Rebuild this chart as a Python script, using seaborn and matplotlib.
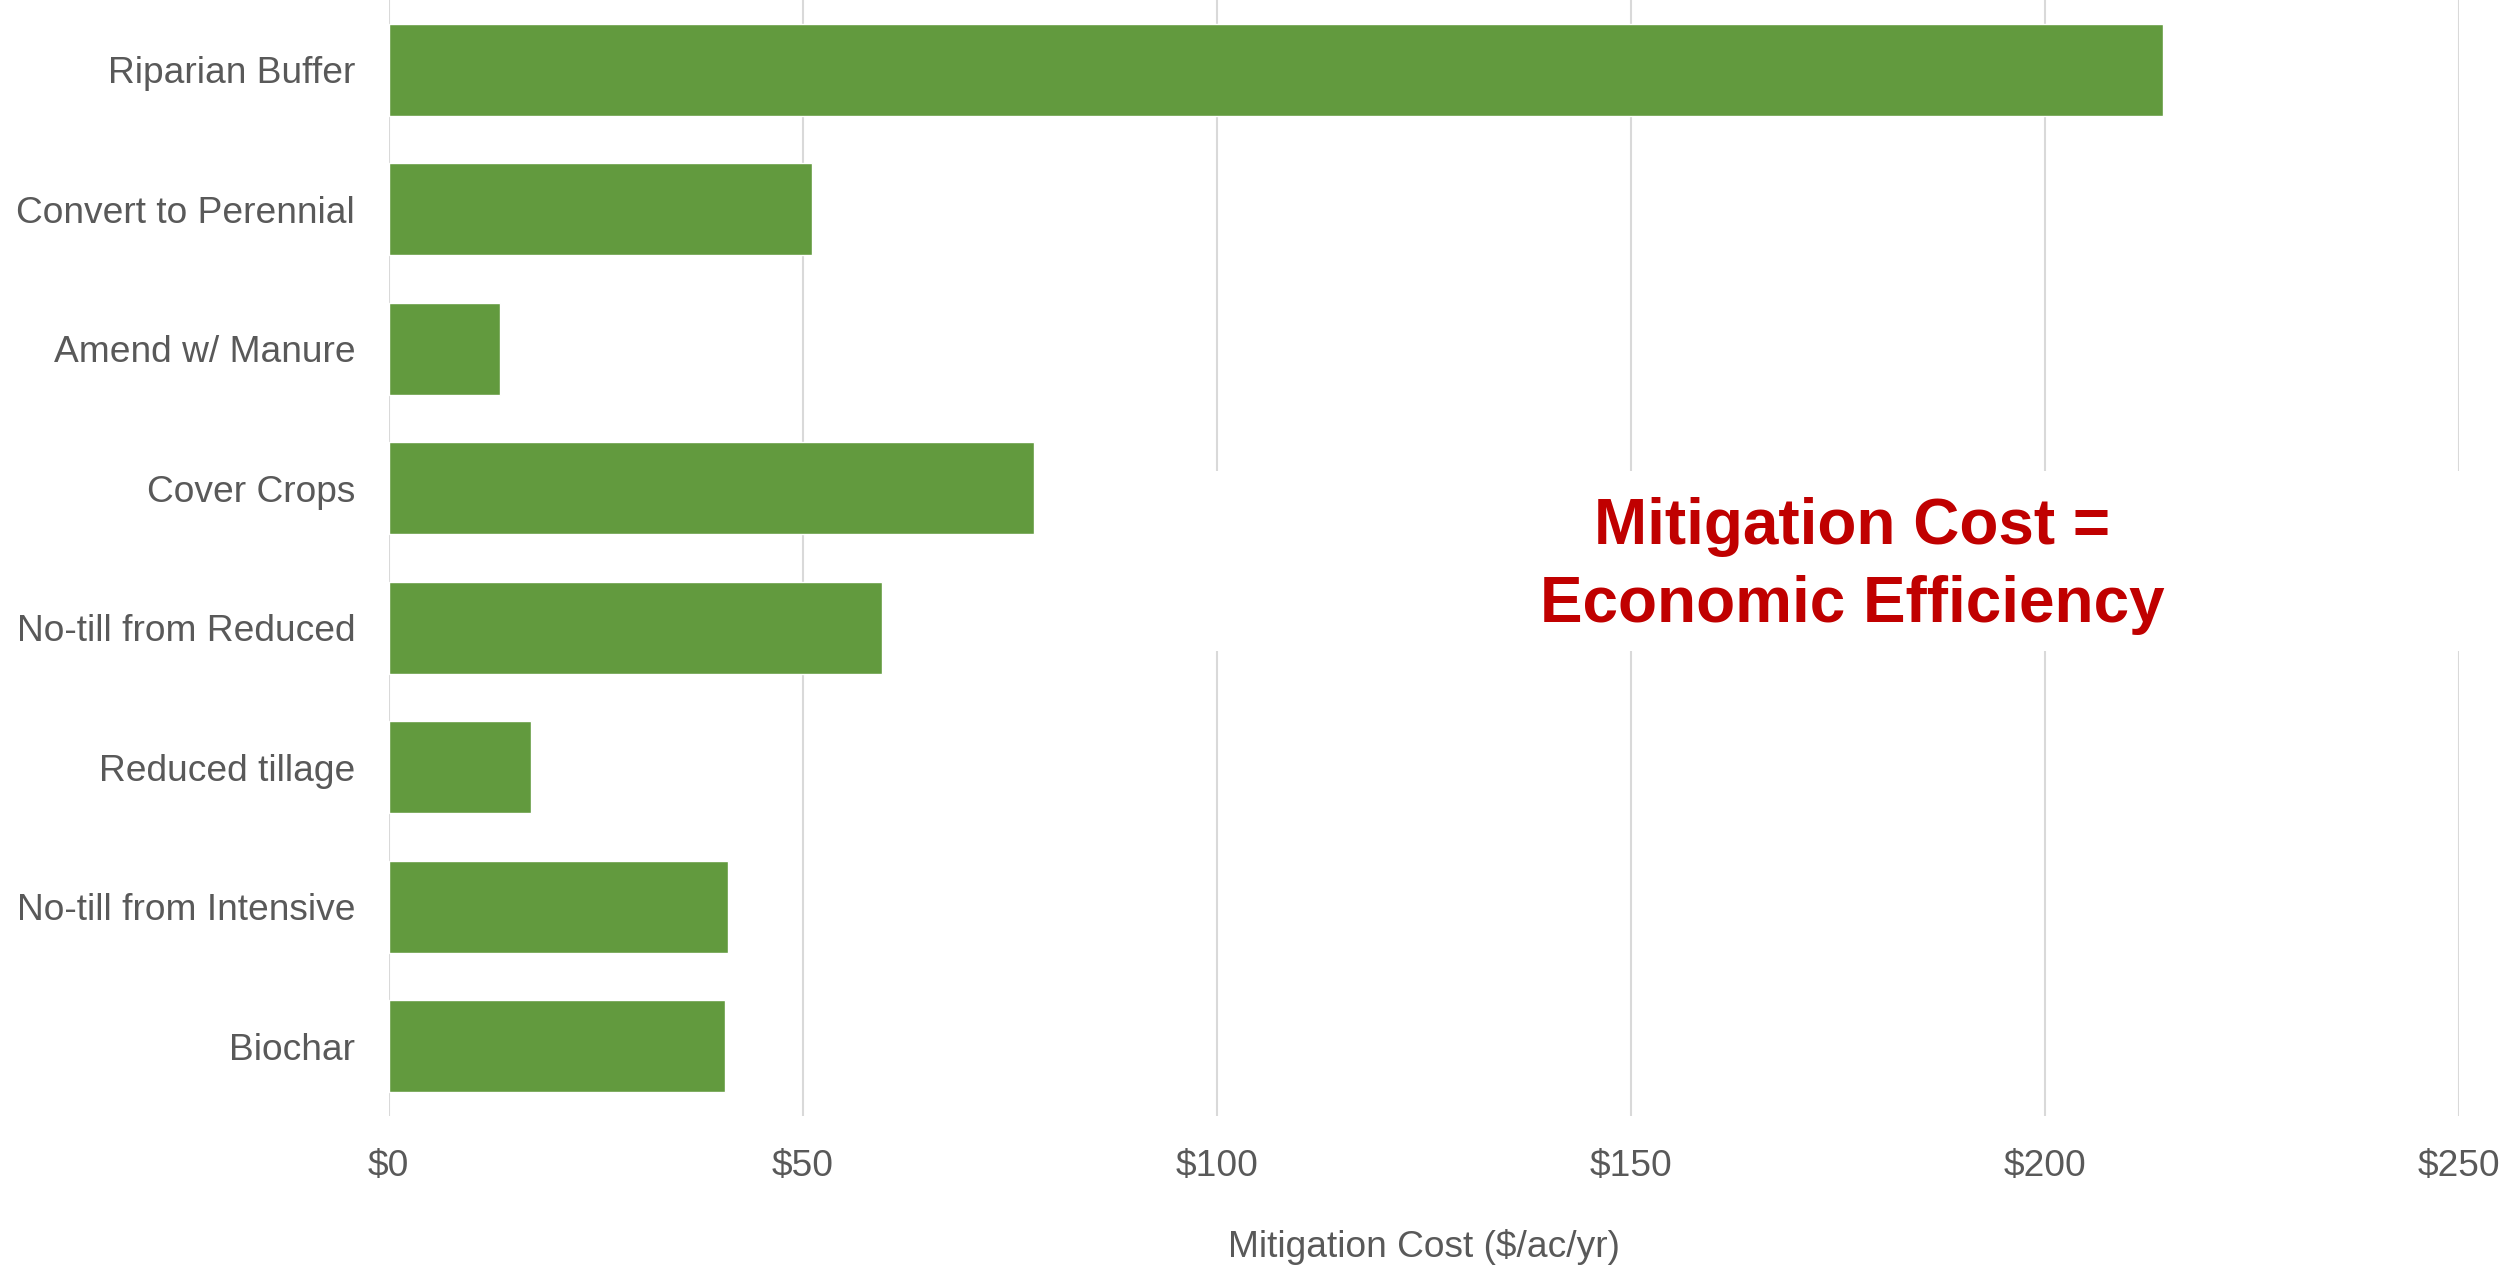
import matplotlib
matplotlib.use("Agg")
import matplotlib.pyplot as plt
from matplotlib.patches import Rectangle
from matplotlib.ticker import FuncFormatter
import seaborn as sns
import pandas as pd

# Mitigation cost per practice ($/ac/yr)
practices = [
    "Riparian Buffer",
    "Convert to Perennial",
    "Amend w/ Manure",
    "Cover Crops",
    "No-till from Reduced",
    "Reduced tillage",
    "No-till from Intensive",
    "Biochar",
]
costs = [214.3, 51.1, 13.5, 78.0, 59.6, 17.2, 41.0, 40.6]
x_ticks = [0, 50, 100, 150, 200, 250]

bar_color = "#629A3E"
text_gray = "#595959"
grid_gray = "#D9D9D9"
accent_red = "#C00000"

sns.set_theme(style="white")
plt.rcParams["font.family"] = ["Liberation Sans", "DejaVu Sans"]

df = pd.DataFrame({"practice": practices, "cost": costs})

fig = plt.figure(figsize=(25.12, 12.68), dpi=100)
ax = fig.add_axes([0.15466, 0.11987, 0.82424, 0.88013])

sns.barplot(data=df, y="practice", x="cost", orient="h", color=bar_color,
            saturation=1, width=0.66, ax=ax, zorder=3)

ax.set_xlim(0, 250)
ax.set_ylim(len(practices) - 0.5, -0.5)
ax.set_xticks(x_ticks)
ax.xaxis.set_major_formatter(FuncFormatter(lambda v, _: f"${v:,.0f}"))

ax.set_axisbelow(True)
ax.grid(axis="x", color=grid_gray, linewidth=1.5, zorder=0)
ax.grid(axis="y", visible=False)
for s in ax.spines.values():
    s.set_visible(False)

ax.tick_params(axis="both", length=0, labelsize=26.7, labelcolor=text_gray)
ax.tick_params(axis="y", pad=24)
ax.tick_params(axis="x", pad=24)
ax.set_ylabel("")
ax.set_xlabel("Mitigation Cost ($/ac/yr)", fontsize=26.7, color=text_gray,
              labelpad=32)

# White panel behind the callout, interrupting the gridlines
ax.add_patch(Rectangle((0.36, 0.417), 0.66, 0.161, transform=ax.transAxes,
                       facecolor="white", edgecolor="none", zorder=1,
                       clip_on=False))

ax.text(0.707, 0.493, "Mitigation Cost =\nEconomic Efficiency",
        transform=ax.transAxes, ha="center", va="center",
        fontsize=46, fontweight="bold", color=accent_red,
        linespacing=1.37, zorder=4)

fig.savefig("out.png", dpi=100, facecolor="white")
